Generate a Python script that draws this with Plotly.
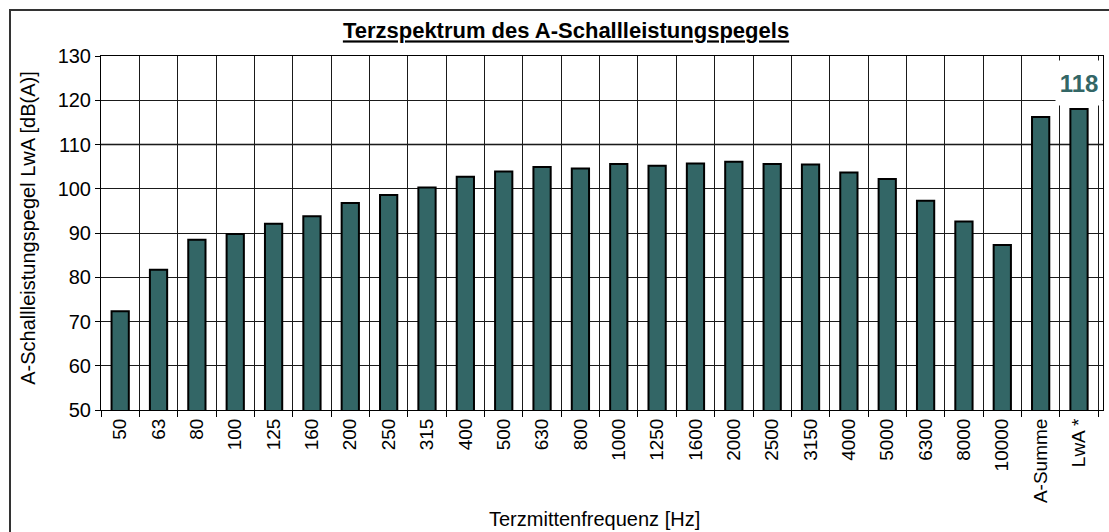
import plotly.graph_objects as go

# Third-octave band centre frequencies plus the two summary columns
bands = ["50", "63", "80", "100", "125", "160", "200", "250", "315", "400",
         "500", "630", "800", "1000", "1250", "1600", "2000", "2500", "3150",
         "4000", "5000", "6300", "8000", "10000", "A-Summe", "LwA *"]

# A-weighted sound power level per band [dB(A)]
levels = [72.3, 81.7, 88.5, 89.8, 92.1, 93.8, 96.8, 98.6, 100.3, 102.7,
          103.9, 104.9, 104.6, 105.6, 105.2, 105.7, 106.1, 105.6, 105.5,
          103.7, 102.2, 97.3, 92.6, 87.3, 116.2, 118]

y_ticks = [50, 60, 70, 80, 90, 100, 110, 120, 130]

FONT = "Arial, 'Liberation Sans', sans-serif"
BAR_COLOR = "#336666"

W, H = 1109, 532
ML, MR, MT, MB = 101, 6, 56, 121.5
pw, ph = W - ML - MR, H - MT - MB


def px_x(x):
    return (x - ML) / pw


def px_y(y):
    return (H - MB - y) / ph


fig = go.Figure(go.Bar(
    x=bands, y=levels,
    marker=dict(color=BAR_COLOR, line=dict(color="#000000", width=2)),
    hoverinfo="x+y",
))

fig.update_layout(
    width=W, height=H,
    margin=dict(l=ML, r=MR, t=MT, b=MB),
    paper_bgcolor="white", plot_bgcolor="white",
    bargap=0.55,
    showlegend=False,
    font=dict(family=FONT, size=19, color="#000000"),
    title=dict(
        text="<b><u>Terzspektrum des A-Schallleistungspegels</u></b>",
        font=dict(family=FONT, size=22, color="#000000"),
        x=px_x(566), xref="paper", xanchor="center",
        y=1 - 30.7 / H, yref="container", yanchor="middle",
    ),
    xaxis=dict(
        type="category", tickangle=-90, tickson="boundaries",
        ticks="outside", ticklen=6, tickcolor="#000", tickwidth=1,
        showgrid=True, gridcolor="#1a1a1a", gridwidth=1,
        showline=True, linecolor="#000", linewidth=1, mirror=True,
        tickfont=dict(size=19), fixedrange=True,
    ),
    yaxis=dict(
        range=[50, 130], tickvals=y_ticks, ticks="outside", ticklen=5,
        tickcolor="#000", tickwidth=1,
        showgrid=True, gridcolor="#1a1a1a", gridwidth=1,
        showline=True, linecolor="#000", linewidth=1, mirror=True,
        zeroline=False, tickfont=dict(size=20), fixedrange=True,
    ),
    annotations=[
        # axis titles
        dict(text="Terzmittenfrequenz [Hz]", xref="paper", yref="paper",
             x=px_x(594), y=px_y(520), xanchor="center", yanchor="middle",
             showarrow=False, font=dict(size=20)),
        dict(text="A-Schallleistungspegel LwA [dB(A)]", xref="paper", yref="paper",
             x=px_x(28), y=px_y(228), xanchor="center", yanchor="middle",
             textangle=-90, showarrow=False, font=dict(size=20)),
        # value label for the total level
        dict(text="<b>%g</b>" % levels[-1], x=bands[-1], y=124.0,
             xref="x", yref="y", showarrow=False,
             font=dict(size=24, color=BAR_COLOR),
             bgcolor="white", width=46, height=44, borderpad=0),
    ],
    shapes=[
        # the 110 dB gridline is drawn lighter and heavier than the rest
        dict(type="line", xref="paper", yref="y", x0=0, x1=1, y0=110, y1=110,
             line=dict(color="#808080", width=2), layer="between"),
        # outer chart frame
        dict(type="rect", xref="paper", yref="paper",
             x0=px_x(10), x1=px_x(1120), y0=px_y(545), y1=px_y(10),
             line=dict(color="#333333", width=2), fillcolor="rgba(0,0,0,0)",
             layer="below"),
    ],
)

fig.write_html("out.html")
